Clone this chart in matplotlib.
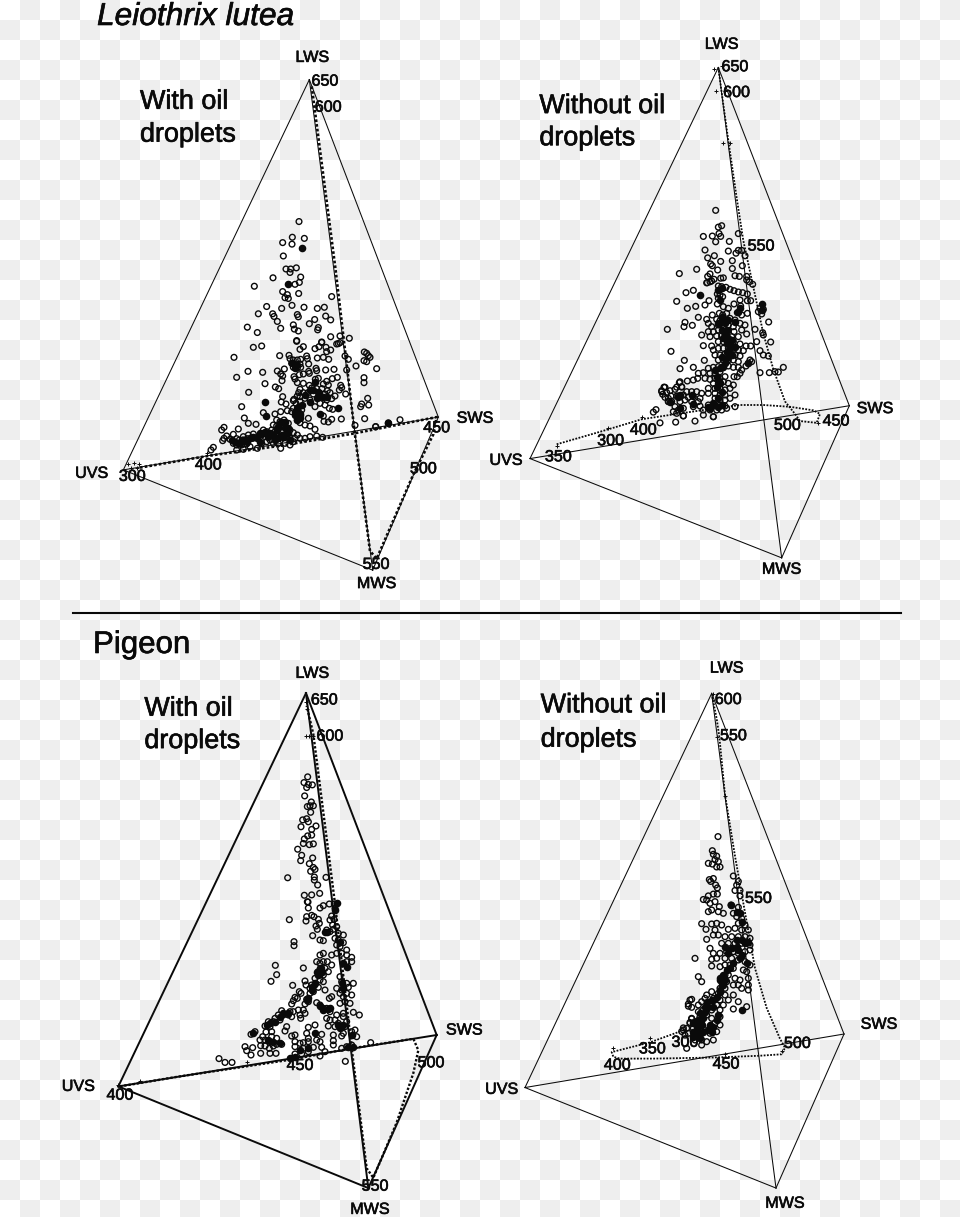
import matplotlib
matplotlib.use('Agg')
import matplotlib.pyplot as plt
import matplotlib.patheffects as pe
import numpy as np

plt.rcParams['font.family'] = ['Liberation Sans', 'DejaVu Sans']

W, H = 960, 1217
TILE = 20
INK = '#0a0a0a'

# crops of the picture the readings were taken from: x, y, w, h, read w, read h
crop_leio_oil = (60, 0, 420, 600, 1260, 1568)
crop_leio_oil_dense = (210, 340, 180, 130, 540, 390)
crop_leio_no = (480, 30, 420, 560, 1260, 1568)
crop_leio_no_dense = (660, 280, 130, 140, 390, 420)
crop_pig_oil = (50, 620, 450, 597, 1350, 1568)
crop_pig_oil_dense = (240, 900, 130, 170, 390, 510)
crop_pig_no = (480, 650, 430, 567, 1290, 1568)
crop_pig_no_dense = (670, 900, 100, 170, 300, 510)

# --- Leiothrix lutea, with oil droplets
leio_oil_corners = dict(LWS=(748, 208), UVS=(190, 1228), SWS=(1135, 1090), MWS=(938, 1490))
leio_oil_locus = [(240, 1222), (420, 1195), (470, 1188), (660, 1165), (880, 1133), (1130, 1090),
                  (1120, 1135), (1060, 1240), (950, 1460), (930, 1440), (884, 1130), (826, 700), (755, 225)]
leio_oil_ticks = [(205, 1212), (222, 1210), (238, 1212), (212, 1222), (230, 1224), (440, 1183)]
leio_oil_labels = [('LWS', 757, 150), ('650', 795, 212), ('600', 805, 280), ('SWS', 1245, 1093),
                   ('UVS', 95, 1237), ('300', 217, 1245), ('400', 445, 1215), ('450', 1130, 1118),
                   ('500', 1090, 1225), ('550', 948, 1475), ('MWS', 950, 1525)]
leio_oil_pts = [(717, 579), (697, 620), (733, 623), (668, 634), (696, 638), (670, 669), (678, 703), (692, 703),
                (709, 700), (690, 712), (722, 724), (639, 726), (705, 743), (718, 738), (583, 748), (668, 762),
                (716, 767), (682, 770), (675, 778), (685, 780), (815, 775), (696, 798), (620, 801), (665, 806),
                (732, 803), (772, 806), (793, 803), (595, 820), (638, 820), (642, 827), (652, 840), (712, 822),
                (715, 828), (764, 835), (748, 846), (797, 826), (812, 836), (700, 849), (562, 855), (662, 858),
                (703, 860), (715, 865), (775, 856), (773, 862), (592, 869), (710, 890), (785, 895), (812, 880),
                (840, 878), (868, 884), (835, 898), (947, 1115), (985, 1105), (1020, 1097)]
leio_oil_solid = [(725, 647), (683, 743)]
leio_oil_dense = [(130, 22), (155, 18), (72, 52), (260, 4), (280, 20), (270, 28), (315, 26), (327, 20), (335, 6),
                  (348, 22), (362, 30), (350, 35), (380, 12), (390, 8), (209, 47), (237, 46), (240, 56), (250, 60),
                  (262, 60), (272, 58), (290, 48), (292, 56), (322, 54), (340, 52), (356, 58), (245, 70), (258, 72),
                  (270, 72), (250, 82), (262, 84), (272, 82), (296, 72), (223, 87), (202, 93), (158, 97), (114, 94),
                  (80, 112), (212, 102), (218, 108), (318, 85), (320, 92), (347, 90), (372, 88), (296, 94), (298, 100),
                  (268, 104), (280, 102), (252, 110), (255, 117), (316, 118), (325, 115), (350, 124), (367, 116),
                  (382, 112), (216, 122), (165, 131), (262, 128), (280, 130), (298, 136), (340, 132), (355, 135),
                  (392, 136), (395, 143), (388, 150), (196, 141), (206, 146), (116, 157), (270, 148), (305, 144),
                  (320, 146), (336, 146), (352, 152), (266, 158), (280, 158), (294, 158), (310, 162), (328, 158),
                  (345, 162), (360, 158), (270, 170), (262, 168), (252, 178), (340, 172), (350, 180), (365, 176),
                  (375, 168), (407, 162), (218, 170), (214, 186), (228, 192), (95, 200), (250, 182), (258, 190),
                  (270, 185), (285, 175), (300, 180), (315, 200), (330, 190), (345, 195), (358, 205), (368, 208),
                  (250, 205), (262, 205), (275, 210), (245, 215), (232, 212), (212, 215), (195, 222), (160, 218),
                  (103, 234), (115, 250), (138, 253), (260, 225), (272, 222), (340, 228), (295, 235), (342, 244),
                  (355, 246), (365, 238), (394, 237), (464, 236), (262, 240), (270, 248), (285, 255), (300, 258),
                  (315, 268), (200, 240), (210, 245), (222, 240), (235, 250), (190, 255), (200, 258), (215, 258),
                  (228, 262), (240, 270), (250, 278), (262, 285), (85, 267), (42, 262), (35, 270), (160, 270),
                  (170, 275), (185, 270), (195, 275), (205, 268), (215, 275), (130, 282), (115, 285), (100, 290),
                  (70, 283), (50, 288), (42, 295), (38, 302), (60, 298), (80, 296), (88, 300), (100, 300), (112, 296),
                  (128, 295), (145, 290), (155, 285), (165, 290), (180, 288), (190, 290), (200, 290), (215, 290),
                  (228, 290), (240, 295), (255, 295), (270, 295), (285, 295), (300, 290), (320, 288), (338, 292),
                  (70, 310), (80, 315), (95, 315), (110, 312), (120, 320), (80, 330), (100, 328), (142, 325), (155, 310),
                  (170, 305), (190, 310), (205, 310), (212, 325), (225, 310), (240, 315), (250, 305), (180, 300),
                  (10, 322), (3, 330), (497, 260), (435, 256), (462, 113), (462, 128), (473, 175), (455, 192), (452, 200),
                  (476, 195), (438, 78), (500, 86), (462, 62), (470, 65), (480, 52), (463, 36), (470, 40), (475, 47),
                  (415, 58), (405, 48), (410, 90)]
leio_oil_dense_solid = [(164, 186), (168, 228), (385, 205), (330, 222), (535, 248), (210, 250), (225, 265), (200, 270),
                        (215, 285), (235, 280), (160, 278), (130, 290), (105, 300), (75, 305), (90, 308), (265, 215),
                        (270, 235), (255, 225), (285, 165), (310, 150), (340, 170), (195, 300), (180, 280),
                        (215, 245), (205, 260), (225, 245), (235, 265), (220, 290), (205, 295), (190, 285), (175, 290),
                        (165, 275), (150, 280), (140, 295), (120, 295), (95, 300), (85, 310), (110, 305), (65, 300),
                        (255, 215), (265, 200), (275, 195), (260, 240), (270, 225), (300, 150), (325, 155), (350, 170),
                        (300, 185), (320, 175), (240, 300), (150, 305), (245, 70), (262, 75), (255, 85), (315, 125)]

# --- Leiothrix lutea, without oil droplets
leio_no_corners = dict(LWS=(715, 105), UVS=(150, 1200), SWS=(1108, 1052), MWS=(905, 1478))
leio_no_locus = [(230, 1160), (360, 1125), (485, 1090), (590, 1075), (700, 1060), (780, 1050), (850, 1050),
                 (930, 1055), (1000, 1065), (1020, 1075), (1010, 1100), (960, 1095), (945, 1075), (915, 1040),
                 (880, 950), (850, 850), (820, 720), (790, 590), (770, 470), (745, 310), (725, 175), (715, 105)]
leio_no_ticks = [(703, 110), (725, 100), (708, 172), (735, 172), (728, 315), (750, 315), (232, 1165), (385, 1115),
                 (487, 1085), (1015, 1100)]
leio_no_labels = [('LWS', 725, 40), ('650', 765, 103), ('600', 770, 175), ('550', 843, 605), ('SWS', 1185, 1060),
                  ('UVS', 78, 1205), ('350', 235, 1195), ('300', 392, 1150), ('400', 490, 1120), ('500', 922, 1107),
                  ('450', 1068, 1095), ('MWS', 905, 1510)]
leio_no_pts = [(707, 505), (725, 548), (715, 552), (670, 578), (697, 577), (717, 570), (722, 578), (775, 570),
               (707, 593), (748, 592), (775, 617), (785, 617), (675, 616), (745, 619), (768, 625), (795, 632),
               (683, 638), (703, 632), (722, 648), (757, 646), (650, 670), (692, 655), (697, 660), (787, 660),
               (713, 672), (757, 668), (598, 682), (690, 683), (683, 690), (722, 695), (765, 688), (778, 690),
               (800, 690), (730, 694), (702, 698), (680, 708), (690, 705), (800, 700), (808, 705), (818, 712),
               (645, 1095), (587, 1098), (540, 1100), (528, 1063), (520, 1070), (610, 1080), (700, 1083),
               (552, 1000), (545, 1010), (560, 1015), (548, 1020), (570, 1010), (573, 1025), (565, 1040),
               (590, 1000), (600, 985), (605, 1000), (575, 1040), (590, 1025)]
leio_no_dense = [(142, 8), (155, 3), (175, 18), (185, 20), (198, 22), (210, 28), (222, 32), (235, 36), (248, 38),
                 (262, 42), (100, 31), (78, 38), (172, 42), (180, 45), (188, 50), (175, 55), (50, 64), (147, 62),
                 (135, 75), (107, 79), (82, 85), (172, 72), (190, 80), (205, 85), (222, 72), (240, 60), (242, 78),
                 (262, 62), (272, 62), (300, 85), (310, 88), (295, 95), (305, 102), (157, 105), (115, 112), (178, 100),
                 (188, 105), (200, 100), (232, 98), (245, 105), (262, 100), (140, 118), (170, 118), (180, 122),
                 (195, 120), (210, 115), (225, 120), (75, 127), (72, 140), (97, 136), (22, 148), (145, 130), (155, 140),
                 (175, 135), (190, 140), (205, 135), (220, 140), (240, 130), (255, 135), (326, 126), (145, 155),
                 (160, 155), (175, 150), (190, 155), (205, 152), (222, 155), (245, 150), (260, 162), (285, 148),
                 (125, 165), (150, 170), (170, 168), (185, 168), (200, 168), (215, 170), (235, 170), (308, 158),
                 (310, 165), (130, 197), (155, 198), (175, 185), (190, 185), (205, 185), (220, 185), (240, 192),
                 (258, 198), (272, 198), (290, 185), (332, 186), (33, 214), (160, 210), (175, 205), (190, 205),
                 (205, 205), (220, 205), (235, 210), (250, 212), (300, 212), (165, 225), (180, 225), (195, 222),
                 (210, 222), (225, 225), (240, 228), (310, 225), (325, 228), (133, 241), (73, 241), (175, 240),
                 (190, 240), (205, 240), (220, 240), (235, 245), (270, 240), (275, 245), (265, 250), (258, 258),
                 (100, 262), (60, 266), (145, 265), (160, 262), (175, 260), (190, 260), (205, 258), (220, 262),
                 (235, 262), (245, 270), (370, 262), (300, 278), (328, 278), (345, 275), (355, 276), (130, 278),
                 (115, 280), (150, 280), (165, 280), (180, 275), (240, 280), (222, 290), (232, 290), (113, 295),
                 (135, 295), (82, 303), (58, 308), (100, 300), (150, 298), (165, 295), (180, 295), (195, 290),
                 (160, 310), (175, 310), (190, 305), (205, 310), (220, 315), (65, 320), (15, 322), (5, 335), (45, 328),
                 (80, 335), (95, 335), (110, 335), (125, 340), (145, 325), (165, 325), (180, 325), (195, 330),
                 (210, 325), (15, 352), (25, 355), (55, 348), (70, 345), (85, 352), (100, 350), (120, 355), (145, 340),
                 (165, 340), (180, 345), (195, 345), (225, 345), (25, 365), (60, 365), (75, 360), (95, 365), (115, 365),
                 (165, 355), (180, 360), (195, 360), (210, 355), (45, 380), (55, 390), (70, 385), (100, 380), (120, 378),
                 (145, 375), (165, 375), (180, 375), (195, 378), (225, 380), (70, 408), (160, 410), (40, 395), (50, 400),
                 (130, 390), (150, 390), (170, 390), (185, 390), (200, 385), (130, 405)]
leio_no_solid = [(120, 44), (305, 72), (180, 130), (200, 150), (190, 175), (210, 195), (200, 215), (185, 232),
                 (195, 250), (170, 290), (180, 310), (160, 370), (175, 382), (150, 385), (55, 352), (100, 372), (225, 125),
                 (185, 110), (175, 130), (185, 150), (195, 165), (205, 175), (215, 180), (200, 190), (210, 205), (215, 225),
                 (200, 235), (190, 260), (180, 265), (165, 270), (205, 120), (195, 130), (225, 200), (175, 300), (170, 320),
                 (185, 335), (175, 355), (145, 380), (185, 375), (60, 345), (95, 345), (30, 365), (60, 385), (180, 60),
                 (175, 30), (185, 25), (305, 90), (265, 250), (235, 95), (240, 85)]

# --- Pigeon, with oil droplets
pig_oil_corners = dict(LWS=(768, 192), UVS=(205, 1225), SWS=(1160, 1090), MWS=(955, 1492))
pig_oil_locus = [(210, 1225), (380, 1200), (720, 1155), (905, 1125), (1090, 1100), (1105, 1130), (1090, 1190),
                 (1040, 1320), (970, 1465), (950, 1440), (905, 1125), (855, 745), (790, 300), (770, 225)]
pig_oil_ticks = [(768, 305), (790, 305), (778, 305), (768, 215), (770, 235), (205, 1220), (270, 1212), (592, 1162)]
pig_oil_labels = [('LWS', 787, 140), ('650', 823, 210), ('600', 840, 305), ('SWS', 1243, 1077), ('UVS', 85, 1225),
                  ('400', 210, 1248), ('450', 750, 1170), ('500', 1143, 1163), ('550', 975, 1487), ('MWS', 960, 1548)]
pig_oil_pts = [(773, 412), (762, 427), (775, 432), (787, 433), (770, 440), (764, 462), (784, 478), (780, 488),
               (772, 490), (790, 488), (782, 505), (770, 522), (758, 525), (775, 530), (753, 543), (785, 550),
               (798, 541), (785, 565), (773, 567), (763, 575), (790, 588), (778, 590), (760, 587), (743, 602),
               (755, 618), (788, 625), (752, 632), (778, 640), (790, 650), (795, 655), (782, 660), (793, 675),
               (713, 677), (828, 676), (793, 683), (803, 696), (809, 718), (763, 723), (785, 722), (772, 740),
               (507, 1152), (525, 1162), (546, 1162), (962, 1110)]
pig_oil_dense = [(204, 6), (205, 24), (268, 12), (250, 17), (240, 24), (283, 12), (285, 25), (215, 46), (222, 50),
                 (200, 50), (198, 63), (235, 58), (238, 70), (228, 78), (232, 88), (148, 59), (275, 48), (270, 60),
                 (282, 58), (278, 75), (290, 80), (260, 90), (270, 95), (280, 88), (295, 100), (218, 107), (240, 120),
                 (250, 122), (310, 105), (285, 115), (295, 120), (310, 128), (162, 125), (162, 137), (290, 135),
                 (300, 140), (320, 150), (250, 160), (240, 165), (275, 165), (290, 160), (305, 160), (320, 165),
                 (335, 172), (230, 185), (240, 190), (250, 185), (262, 185), (275, 195), (335, 185), (320, 185),
                 (106, 196), (190, 204), (245, 205), (255, 205), (265, 215), (110, 224), (93, 244), (235, 215),
                 (240, 225), (250, 225), (225, 235), (240, 240), (250, 245), (300, 230), (305, 245), (320, 250),
                 (340, 250), (195, 243), (198, 255), (158, 256), (215, 255), (225, 255), (235, 262), (210, 265),
                 (255, 270), (290, 265), (305, 270), (325, 262), (178, 275), (183, 280), (210, 280), (220, 275),
                 (165, 292), (172, 295), (160, 302), (200, 298), (205, 305), (195, 312), (268, 295), (275, 290),
                 (300, 280), (310, 290), (320, 280), (335, 285), (155, 312), (230, 308), (240, 315), (250, 325),
                 (260, 325), (270, 335), (300, 310), (315, 305), (330, 310), (125, 332), (150, 335), (160, 335),
                 (175, 330), (190, 330), (115, 345), (130, 345), (145, 345), (155, 350), (180, 345), (195, 340),
                 (182, 355), (105, 355), (290, 345), (310, 340), (340, 337), (358, 345), (85, 365), (100, 365),
                 (120, 360), (260, 355), (270, 360), (285, 360), (295, 370), (310, 350), (320, 365), (75, 378),
                 (90, 380), (225, 375), (205, 382), (140, 380), (135, 393), (265, 378), (285, 380), (300, 380),
                 (315, 380), (45, 395), (33, 403), (78, 396), (95, 395), (200, 400), (245, 403), (310, 400), (345, 390),
                 (335, 395), (280, 405), (305, 408), (165, 405), (155, 408), (205, 415), (68, 410), (95, 410), (110, 415),
                 (350, 410), (60, 420), (75, 420), (90, 425), (125, 433), (110, 433), (280, 422), (230, 420), (240, 425),
                 (165, 425), (180, 430), (190, 428), (205, 425), (15, 440), (38, 443), (20, 452), (62, 437), (75, 438),
                 (88, 445), (100, 438), (165, 440), (190, 445), (220, 442), (245, 442), (280, 435), (305, 445),
                 (320, 440), (335, 435), (33, 465), (62, 460), (90, 460), (108, 460), (165, 462), (185, 462), (205, 455),
                 (240, 468), (255, 455), (316, 484)]
pig_oil_solid = [(225, 400), (240, 205), (235, 225), (225, 250), (215, 262), (200, 300), (120, 350), (105, 365),
                 (240, 318), (265, 328), (295, 375), (300, 385), (85, 420), (100, 425), (262, 95),
                 (230, 215), (245, 215), (215, 270), (205, 295), (130, 340), (145, 340), (90, 370), (80, 375), (40, 398),
                 (120, 430), (290, 10), (285, 30), (255, 95), (300, 125), (310, 375), (250, 330), (270, 325), (325, 440),
                 (340, 440), (150, 475), (180, 450), (165, 470), (205, 445), (310, 190), (320, 200), (305, 250),
                 (310, 265), (335, 405)]

# --- Pigeon, without oil droplets
pig_no_corners = dict(LWS=(695, 120), UVS=(135, 1210), SWS=(1092, 1062), MWS=(888, 1488))
pig_no_locus = [(697, 130), (710, 190), (718, 240), (735, 400), (765, 570), (790, 700), (825, 880), (860, 990),
                (900, 1075), (915, 1100), (905, 1118), (840, 1122), (700, 1127), (520, 1130), (420, 1130),
                (400, 1125), (395, 1112), (510, 1085), (600, 1055)]
pig_no_ticks = [(700, 122), (712, 240), (735, 405), (400, 1100), (510, 1072), (735, 1118), (905, 1108)]
pig_no_labels = [('LWS', 740, 50), ('600', 745, 137), ('550', 760, 237), ('550', 835, 687), ('SWS', 1197, 1035),
                 ('UVS', 65, 1215), ('350', 517, 1103), ('300', 615, 1085), ('400', 412, 1148), ('450', 738, 1145),
                 ('500', 952, 1088), ('MWS', 915, 1530)]
pig_no_pts = [(714, 516), (697, 555), (700, 565), (710, 570), (705, 580), (715, 585), (685, 590), (697, 592), (710, 600),
              (720, 600), (688, 635), (700, 632), (692, 640), (707, 650), (712, 658), (760, 625), (775, 640), (770, 650),
              (765, 665), (780, 665), (670, 690), (685, 680), (700, 675), (712, 675), (780, 680), (630, 968), (625, 985),
              (635, 1020), (630, 1030), (610, 1045), (605, 1055), (615, 1065)]
pig_no_dense = [(183, 15), (205, 22), (110, 0), (135, 5), (120, 10), (115, 35), (125, 30), (148, 20), (145, 35), (160, 40),
                (190, 40), (200, 50), (215, 55), (95, 71), (125, 72), (140, 70), (155, 75), (205, 70), (225, 75), (108, 88),
                (135, 90), (175, 88), (195, 85), (215, 90), (235, 90), (110, 118), (145, 105), (130, 105), (165, 110),
                (185, 110), (205, 110), (225, 110), (240, 115), (120, 145), (155, 130), (175, 130), (195, 130), (215, 130),
                (240, 135), (75, 175), (130, 160), (150, 160), (170, 155), (190, 155), (205, 160), (225, 155), (240, 150),
                (125, 178), (140, 175), (165, 175), (185, 175), (205, 180), (225, 185), (240, 195), (125, 198), (150, 200),
                (165, 195), (180, 195), (190, 205), (220, 210), (230, 215), (85, 230), (95, 245), (165, 225), (175, 225),
                (195, 235), (210, 240), (235, 235), (155, 245), (170, 245), (205, 255), (235, 255), (150, 265), (165, 265),
                (190, 255), (215, 265), (235, 270), (125, 275), (145, 280), (165, 285), (190, 285), (110, 285), (105, 295),
                (95, 305), (130, 295), (150, 300), (175, 300), (205, 305), (65, 298), (55, 312), (85, 315), (65, 322),
                (120, 310), (140, 315), (160, 315), (190, 327), (230, 320), (100, 330), (85, 335), (125, 330), (150, 330),
                (90, 350), (110, 345), (65, 355), (125, 355), (150, 350), (60, 370), (75, 365), (95, 370), (135, 370),
                (150, 375), (50, 385), (40, 390), (70, 385), (85, 385), (100, 385), (125, 385), (55, 400), (75, 400),
                (90, 405), (120, 400), (140, 395), (75, 420), (95, 420), (130, 420), (110, 425), (95, 435), (50, 445)]
pig_no_solid = [(215, 330), (182, 15), (150, 240), (160, 255), (150, 275), (130, 300), (105, 320), (95, 345), (85, 375),
                (80, 405), (115, 390), (230, 190), (210, 175), (200, 140),
                (70, 395), (85, 395), (100, 395), (80, 380), (95, 375), (70, 370), (85, 360), (100, 355), (90, 340),
                (105, 335), (115, 320), (130, 320), (110, 305), (125, 300), (140, 290), (150, 270), (155, 255), (165, 240),
                (150, 235), (160, 225), (170, 210), (180, 205), (190, 190), (175, 160), (165, 140), (185, 145), (200, 120),
                (215, 120), (225, 130), (235, 125), (205, 150), (215, 165), (210, 40), (200, 35), (215, 65), (120, 375),
                (130, 380), (140, 360), (145, 345), (70, 410), (90, 415), (125, 395), (85, 400)]

inked = [pe.withStroke(linewidth=0.45, foreground=INK)]


def crop_axes(fig, crop):
    x, y, w, h, zw, zh = crop
    ax = fig.add_axes([x / W, 1 - (y + h) / H, w / W, h / H])
    ax.set_xlim(0, zw)
    ax.set_ylim(zh, 0)
    ax.axis('off')
    ax.patch.set_alpha(0)
    return ax


def rings(ax, pts, solid=False):
    xs, ys = zip(*pts)
    if solid:
        ax.scatter(xs, ys, s=30, color=INK, linewidths=0, clip_on=False, zorder=4)
    else:
        ax.scatter(xs, ys, s=17, facecolors='none', edgecolors=INK, linewidths=1.0, clip_on=False, zorder=4)


def tetra(ax, corners, locus, ticks, labels, lw=0.75, locus_lw=1.3):
    # edges of the colour space first, spectrum locus dotted on top
    names = list(corners)
    for i, a in enumerate(names):
        for b in names[i + 1:]:
            ax.plot([corners[a][0], corners[b][0]], [corners[a][1], corners[b][1]],
                    color=INK, lw=lw, clip_on=False, zorder=2)
    xs, ys = zip(*locus)
    ax.plot(xs, ys, color=INK, lw=locus_lw, ls=(0, (1, 0.8)), clip_on=False, zorder=3)
    tx, ty = zip(*ticks)
    ax.scatter(tx, ty, s=5, marker='+', color=INK, linewidths=0.7, clip_on=False, zorder=3)
    for name, x, y in labels:
        ax.text(x, y, name, fontsize=11.6, color=INK, ha='center', va='center', zorder=5, path_effects=inked)


def heading(ax, x, y1, y2, first, second):
    ax.text(x, y1, first, fontsize=19.4, color=INK, ha='left', va='center', path_effects=inked)
    ax.text(x, y2, second, fontsize=19.4, color=INK, ha='left', va='center', path_effects=inked)


fig = plt.figure(figsize=(W / 100, H / 100), dpi=100)

bg = fig.add_axes([0, 0, 1, 1])
checks = np.indices((H // TILE + 1, W // TILE + 1)).sum(axis=0) % 2
bg.imshow(checks, cmap='gray_r', vmin=0, vmax=1 / 0.067, extent=(0, (W // TILE + 1) * TILE, (H // TILE + 1) * TILE, 0),
          interpolation='nearest', aspect='auto')
bg.set_xlim(0, W)
bg.set_ylim(H, 0)
bg.axis('off')
bg.plot([73, 901], [613, 613], color=INK, lw=1.5)
bg.text(97, 17, 'Leiothrix lutea', fontsize=22.8, style='italic', color=INK, ha='left', va='center', path_effects=inked)
bg.text(93, 645, 'Pigeon', fontsize=22.5, color=INK, ha='left', va='center', path_effects=inked)

ax = crop_axes(fig, crop_leio_oil)
tetra(ax, leio_oil_corners, leio_oil_locus, leio_oil_ticks, leio_oil_labels, locus_lw=1.9)
rings(ax, leio_oil_pts)
rings(ax, leio_oil_solid, solid=True)
heading(ax, 240, 266, 352, 'With oil', 'droplets')
ax = crop_axes(fig, crop_leio_oil_dense)
rings(ax, leio_oil_dense)
rings(ax, leio_oil_dense_solid, solid=True)

ax = crop_axes(fig, crop_leio_no)
tetra(ax, leio_no_corners, leio_no_locus, leio_no_ticks, leio_no_labels)
rings(ax, leio_no_pts)
heading(ax, 178, 213, 303, 'Without oil', 'droplets')
ax = crop_axes(fig, crop_leio_no_dense)
rings(ax, leio_no_dense)
rings(ax, leio_no_solid, solid=True)

ax = crop_axes(fig, crop_pig_oil)
tetra(ax, pig_oil_corners, pig_oil_locus, pig_oil_ticks, pig_oil_labels, lw=1.4, locus_lw=1.7)
rings(ax, pig_oil_pts)
heading(ax, 283, 233, 318, 'With oil', 'droplets')
ax = crop_axes(fig, crop_pig_oil_dense)
rings(ax, pig_oil_dense)
rings(ax, pig_oil_solid, solid=True)

ax = crop_axes(fig, crop_pig_no)
tetra(ax, pig_no_corners, pig_no_locus, pig_no_ticks, pig_no_labels)
rings(ax, pig_no_pts)
heading(ax, 182, 153, 248, 'Without oil', 'droplets')
ax = crop_axes(fig, crop_pig_no_dense)
rings(ax, pig_no_dense)
rings(ax, pig_no_solid, solid=True)

fig.savefig('out.png', dpi=100)
